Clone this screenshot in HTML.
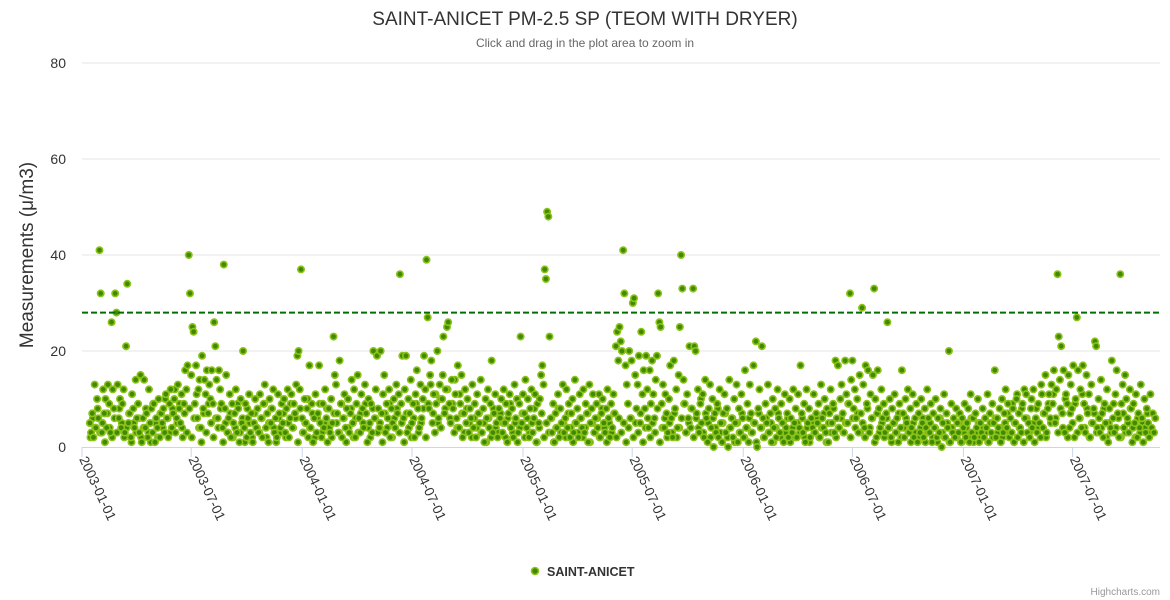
<!DOCTYPE html>
<html><head><meta charset="utf-8">
<style>
html,body{margin:0;padding:0;background:#fff;}
svg{display:block;font-family:"Liberation Sans","DejaVu Sans",sans-serif;}
</style></head>
<body>
<svg id="chart" width="1170" height="600" viewBox="0 0 1170 600">
<text x="585" y="25" text-anchor="middle" font-size="19" fill="#333">SAINT-ANICET PM-2.5 SP (TEOM WITH DRYER)</text>
<text x="585" y="47" text-anchor="middle" font-size="12" fill="#666">Click and drag in the plot area to zoom in</text>
<text transform="translate(33,255) rotate(-90)" text-anchor="middle" font-size="19" fill="#333">Measurements (μ/m3)</text>
<g id="grid"></g>
<g id="xaxis"></g>
<g id="points"></g>
<line x1="82" x2="1160" y1="312.6" y2="312.6" stroke="#007000" stroke-width="2" stroke-dasharray="6,3"/>
<g>
<circle cx="535" cy="571" r="3.5" fill="#3f8a00" stroke="#8cc21a" stroke-width="1.6"/>
<text x="547" y="576" font-size="12.5" font-weight="bold" fill="#333">SAINT-ANICET</text>
</g>
<text x="1160" y="595" text-anchor="end" font-size="10" fill="#999">Highcharts.com</text>
</svg>
<script>
const yTicks=[0,20,40,60,80];
const xTickLabels=["2003-01-01","2003-07-01","2004-01-01","2004-07-01","2005-01-01","2005-07-01","2006-01-01","2006-07-01","2007-01-01","2007-07-01"];
const startDate="2003-01-14";
const stepDays=2;
const values=[
5,3,7,2,13,4,10,6,41,32,3,12,7,10,4,13,9,3,26,12,
8,32,28,13,6,10,4,9,12,3,21,34,5,7,2,11,8,4,14,6,
9,3,15,1,6,14,4,7,2,12,5,8,3,9,1,6,4,10,2,7,
5,8,3,11,6,2,9,12,4,7,10,3,6,13,8,5,11,2,9,16,
12,17,40,32,15,25,24,9,17,6,12,14,4,19,8,14,11,16,7,13,
10,16,9,26,21,14,6,16,12,9,4,38,8,15,3,6,11,2,9,5,
7,12,3,8,1,10,5,20,4,9,2,6,11,3,7,1,5,10,4,8,
3,11,6,2,9,13,4,7,1,10,5,8,12,3,6,2,11,7,4,9,
5,10,3,8,12,2,6,11,4,9,7,13,19,20,12,37,6,3,10,5,
8,2,17,4,9,1,6,11,3,7,17,5,2,9,4,12,6,1,8,3,
10,5,23,15,13,7,3,18,9,2,6,11,4,8,10,3,7,14,5,12,
2,9,15,6,3,11,8,4,13,7,1,10,5,9,3,20,6,12,19,8,
4,20,7,11,15,3,9,6,12,2,8,5,10,4,13,7,11,36,9,19,
6,12,19,3,10,7,14,5,9,2,11,16,8,4,13,6,10,19,12,39,
27,8,15,18,5,11,3,9,20,6,13,4,10,23,7,12,25,26,9,5,
14,8,3,11,6,17,4,9,15,2,7,12,5,10,3,8,6,13,4,9,
2,11,7,5,14,3,8,1,10,6,12,4,9,18,3,7,11,5,2,8,
6,10,3,12,5,9,1,7,11,4,8,2,13,6,10,3,9,23,5,11,
7,14,4,10,2,8,12,3,6,11,1,9,5,10,15,17,13,37,35,49,
48,23,6,3,9,1,7,4,11,2,8,5,13,3,6,12,4,9,2,7,
10,3,14,5,8,2,11,6,4,12,3,9,7,1,13,5,8,11,3,6,
9,4,11,2,7,10,5,3,8,12,6,2,9,4,11,7,21,24,18,25,
22,20,41,32,17,13,9,20,6,18,30,31,15,8,13,19,5,24,11,16,
8,19,12,4,16,9,18,11,6,14,19,32,26,25,9,13,4,11,7,3,
10,17,6,2,18,8,12,4,15,25,40,33,14,9,3,11,6,21,4,8,
33,21,20,7,12,3,9,5,11,2,14,6,1,8,13,4,10,0,7,3,
9,2,12,5,1,7,11,3,8,0,14,4,6,2,10,5,13,1,8,3,
11,6,2,16,4,9,1,13,7,3,17,5,22,0,8,12,4,21,6,2,
9,5,13,3,7,1,10,4,8,2,12,6,3,9,5,1,11,4,7,2,
10,6,3,12,5,8,2,11,4,17,7,3,9,1,12,5,8,2,6,4,
11,3,7,5,9,2,13,6,4,10,3,8,1,7,12,5,9,3,18,6,
17,4,10,13,7,3,18,11,5,9,32,14,18,8,12,6,10,3,15,7,
29,13,4,17,9,16,3,11,6,15,33,10,2,16,8,4,12,6,9,3,
7,26,4,10,2,8,5,11,3,6,1,9,4,16,7,2,10,5,12,3,
8,4,11,2,6,9,1,7,3,10,5,2,8,4,12,6,3,9,1,7,
4,10,2,6,3,8,0,5,11,2,7,4,20,1,9,3,6,2,8,5,
3,7,1,6,4,9,2,5,8,1,11,3,6,2,7,4,10,1,5,3,
8,2,6,4,11,1,7,3,9,5,16,2,6,4,8,1,10,3,7,12,
4,9,2,6,3,8,1,5,10,2,7,4,3,9,1,6,11,3,5,2,
8,4,12,1,6,3,9,5,2,11,4,7,15,3,8,11,6,13,9,16,
5,12,36,23,14,21,7,16,3,11,9,15,4,13,8,17,2,10,27,16,
6,12,4,17,9,3,15,7,11,2,13,5,8,22,21,4,10,3,14,7,
2,9,5,12,1,8,4,18,6,3,11,16,7,2,36,9,13,4,15,10,
6,3,12,8,1,9,5,11,2,7,4,13,6,1,10,3,8,5,2,11,4,7,3,6
];
const startDateB="2003-01-15";
const stepDaysB=4;
const valuesB=[
2,6,4,8,3,5,1,7,4,2,6,3,8,5,2,4,7,1,5,3,
6,2,4,8,3,1,9,5,2,7,4,10,6,3,8,12,5,9,4,7,
3,8,2,6,11,4,1,7,3,9,5,2,6,4,8,1,5,3,7,2,
4,9,3,6,1,8,5,2,7,4,3,6,9,2,5,8,4,1,6,3,
7,2,5,9,4,6,1,8,3,5,10,4,7,2,6,9,3,5,8,4,
2,7,5,3,9,6,1,4,8,2,6,3,7,5,9,4,2,8,6,3,
5,1,7,4,9,2,6,8,3,5,1,7,4,2,6,9,3,5,8,2,
9,13,7,11,5,10,15,8,12,6,9,14,4,11,7,3,8,5,2,6,
4,7,3,5,1,6,2,8,4,3,7,5,2,6,9,3,5,1,4,7,
2,6,3,5,8,1,4,7,2,5,3,6,1,4,8,3,5,2,7,4,
1,5,3,6,2,4,7,1,5,3,6,2,8,4,1,5,3,7,2,6,
3,5,1,4,6,2,5,3,7,1,4,6,2,5,3,8,1,4,6,2,
5,3,7,2,4,6,9,3,5,8,2,6,4,10,3,7,5,2,6,4,
8,3,5,7,2,4,6,1,5,3,7,2,4,6,3,5,1,7,4,2,
6,3,5,1,4,7,2,5,3,6,1,4,2,5,3,6,2,4,1,5,
3,6,2,4,7,1,5,3,8,2,4,6,3,5,9,2,6,4,7,3,
5,2,8,4,6,1,7,3,5,2,6,4,1,5,3,7,2,4,6,3,
1,5,3,2,4,6,1,3,5,2,4,1,6,3,2,5,1,4,3,2,
5,1,3,4,2,6,1,3,5,2,4,3,1,5,2,6,3,4,2,5,
7,3,9,5,11,4,8,12,6,3,10,5,8,4,13,7,2,9,5,11,
6,3,8,4,10,2,7,5,9,3,6,11,4,8,2,5,7,3,6,4,
8,2,5,3,9,4,6,2,7,3,5,8,4,2,6,3,5,4,7,3
];
const NS="http://www.w3.org/2000/svg";
const DAY=86400000;
const t0=Date.UTC(2003,0,1);
function xScale(ms){return 82+(ms-t0)/DAY*0.6033;}
function yScale(v){return 447-v*4.8;}
function mk(tag,attrs,parent){const e=document.createElementNS(NS,tag);for(const k in attrs)e.setAttribute(k,attrs[k]);parent.appendChild(e);return e;}
function parseDate(s){const p=s.split('-').map(Number);return Date.UTC(p[0],p[1]-1,p[2]);}
const grid=document.getElementById('grid');
yTicks.forEach(v=>{
  const y=yScale(v);
  if(v>0){
    const l=mk('line',{x1:82,x2:1160,y1:y,y2:y,stroke:'#e6e6e6','stroke-width':1},grid);
    
    
  }
  const t=mk('text',{x:66,y:y+5,'text-anchor':'end','font-size':14,fill:'#333'},grid);
  t.textContent=v;
  
  
});
const xa=document.getElementById('xaxis');
const axl=mk('line',{x1:82,x2:1160,y1:447.5,y2:447.5,stroke:'#ccd6eb','stroke-width':1},xa);


xTickLabels.forEach(s=>{
  const x=xScale(parseDate(s));
  const tk=mk('line',{x1:x,x2:x,y1:447,y2:457,stroke:'#ccd6eb'},xa);
  
  
  const t=mk('text',{transform:`translate(${x-3},459) rotate(65)`,'font-size':13.5,fill:'#333'},xa);
  t.textContent=s;
  
  
});
const pts=document.getElementById('points');
function drawSeries(arr,start,step){
  const s0=parseDate(start);
  arr.forEach((v,i)=>{
    const c=mk('circle',{cx:xScale(s0+i*step*DAY),cy:yScale(v),r:3.2,fill:'#3f8a00',stroke:'#8cc21a','stroke-width':1.6},pts);
    
    
  });
}
drawSeries(valuesB,startDateB,stepDaysB);
drawSeries(values,startDate,stepDays);
</script>
</body></html>
